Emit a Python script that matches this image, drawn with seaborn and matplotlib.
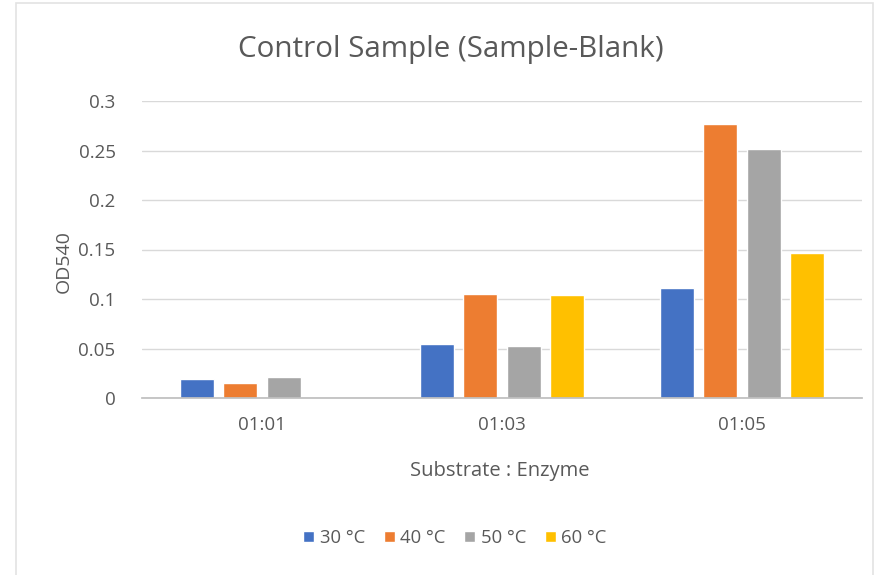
import pandas as pd
import matplotlib.pyplot as plt
import seaborn as sns
from matplotlib.patches import Patch, Rectangle

# chart values
ratios = ["01:01", "01:03", "01:05"]
temps = ["30 °C", "40 °C", "50 °C", "60 °C"]
od_30 = [0.019, 0.055, 0.111]
od_40 = [0.015, 0.105, 0.277]
od_50 = [0.021, 0.053, 0.252]
od_60 = [0.0, 0.104, 0.146]
colors = ["#4472C4", "#ED7D31", "#A5A5A5", "#FFC000"]

rows = []
for t, vals in zip(temps, [od_30, od_40, od_50, od_60]):
    for r, v in zip(ratios, vals):
        rows.append({"Ratio": r, "Temp": t, "OD540": v})
df = pd.DataFrame(rows)

sns.set_theme(style="white")
plt.rcParams["font.family"] = ["Open Sans", "DejaVu Sans"]
txt = "#595959"

fig = plt.figure(figsize=(8.79, 5.75), dpi=100)
ax = fig.add_axes([142 / 879, 1 - 398 / 575, 720 / 879, 297 / 575])

# faint chart-area border like the screenshot
fig.patches.append(Rectangle((16 / 879, -0.05), (873 - 16) / 879, 1.05 - 3 / 575,
                             transform=fig.transFigure, fill=False,
                             edgecolor="#E3E3E3", linewidth=1.2))

sns.barplot(data=df, x="Ratio", y="OD540", hue="Temp", order=ratios,
            hue_order=temps, palette=colors, width=0.725, gap=0.22,
            saturation=1, ax=ax, legend=False)

ax.set_ylim(0, 0.3)
ax.set_yticks([0, 0.05, 0.1, 0.15, 0.2, 0.25, 0.3])
ax.set_yticklabels(["0", "0.05", "0.1", "0.15", "0.2", "0.25", "0.3"])
ax.yaxis.grid(True, color="#D9D9D9", linewidth=1)
ax.set_axisbelow(True)
for s in ["top", "right", "left"]:
    ax.spines[s].set_visible(False)
ax.spines["bottom"].set_color("#BFBFBF")
ax.tick_params(axis="both", length=0, labelsize=13.5, colors=txt)
ax.tick_params(axis="y", pad=19)
ax.tick_params(axis="x", pad=13)
ax.set_xlabel("")
ax.set_ylabel("")

fig.text(451 / 879, 1 - 50 / 575, "Control Sample (Sample-Blank)",
         ha="center", va="center", fontsize=21.3, color=txt)
fig.text(64 / 879, 1 - 262 / 575, "OD540", rotation=90,
         ha="center", va="center", fontsize=14, color=txt)
fig.text(500 / 879, 1 - 471 / 575, "Substrate : Enzyme",
         ha="center", va="center", fontsize=14.5, color=txt)

handles = [Patch(facecolor=c, label=t) for c, t in zip(colors, temps)]
fig.legend(handles=handles, loc="center", bbox_to_anchor=(455 / 879, 1 - 538 / 575),
           ncol=4, frameon=False, fontsize=13.3, labelcolor=txt,
           handlelength=0.6, handleheight=0.6, handletextpad=0.3, columnspacing=1.0)

fig.savefig("out.png", dpi=100)
